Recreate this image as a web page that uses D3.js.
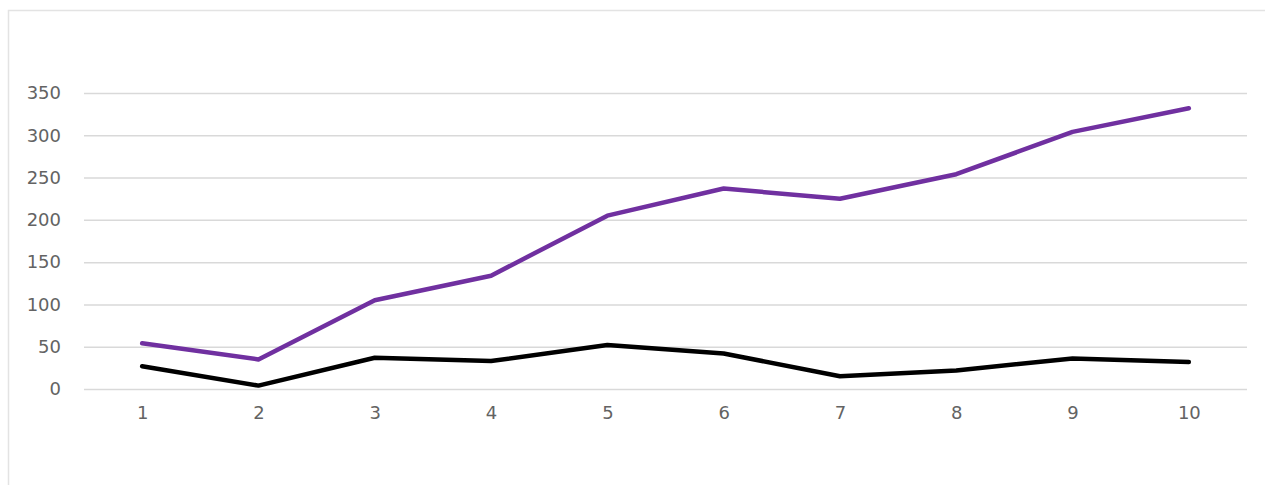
<!DOCTYPE html>
<html>
<head>
<meta charset="utf-8">
<script src="https://cdn.jsdelivr.net/npm/d3@7"></script>
<style>
  html, body { margin: 0; padding: 0; background: #fff; overflow: hidden; }
</style>
</head>
<body>
<div id="chart"></div>
<script>
const categories = ["1", "2", "3", "4", "5", "6", "7", "8", "9", "10"];
const purpleValues = [54, 35, 105, 134, 205, 237, 225, 254, 304, 332];
const blackValues = [27, 4, 37, 33, 52, 42, 15, 22, 36, 32];
const yTicks = [0, 50, 100, 150, 200, 250, 300, 350];

const width = 1265;
const height = 485;
const margin = { top: 93, right: 18, bottom: 96, left: 84 };
const labelFont = "'DejaVu Sans', sans-serif";

const svg = d3.select("#chart")
    .append("svg")
    .attr("width", width)
    .attr("height", height);

// outer frame, runs off the right and bottom edges
svg.append("rect")
    .attr("x", 8.5)
    .attr("y", 10.5)
    .attr("width", width + 50)
    .attr("height", height + 50)
    .attr("fill", "none")
    .attr("stroke", "#e3e3e3")
    .attr("stroke-width", 1.5);

const g = svg.append("g")
    .attr("transform", `translate(${margin.left},${margin.top})`);

const innerW = width - margin.left - margin.right;
const innerH = height - margin.top - margin.bottom;

const xScale = d3.scalePoint()
    .domain(categories)
    .range([0, innerW])
    .padding(0.5);

const yScale = d3.scaleLinear()
    .domain([0, 350])
    .range([innerH, 0]);

// gridlines
g.append("g")
    .call(d3.axisLeft(yScale).tickValues(yTicks).tickSize(-innerW).tickFormat(""))
    .call(sel => sel.select(".domain").remove())
    .selectAll("line")
    .attr("stroke", "#d9d9d9")
    .attr("stroke-width", 1.5);

// y labels
const yAxis = g.append("g")
    .call(d3.axisLeft(yScale).tickValues(yTicks).tickSize(0).tickPadding(23));
yAxis.select(".domain").remove();
yAxis.attr("font-family", labelFont).attr("font-size", 18);
yAxis.selectAll("text")
    .attr("fill", "#636363");

// x labels
const xAxis = g.append("g")
    .attr("transform", `translate(0,${innerH})`)
    .call(d3.axisBottom(xScale).tickSize(0).tickPadding(17));
xAxis.select(".domain").remove();
xAxis.attr("font-family", labelFont).attr("font-size", 18);
xAxis.selectAll("text")
    .attr("fill", "#636363");

const line = d3.line()
    .x((d, i) => xScale(categories[i]))
    .y(d => yScale(d));

g.append("path")
    .datum(purpleValues)
    .attr("d", line)
    .attr("fill", "none")
    .attr("stroke", "#7030a0")
    .attr("stroke-width", 4.5)
    .attr("stroke-linejoin", "round")
    .attr("stroke-linecap", "round");

g.append("path")
    .datum(blackValues)
    .attr("d", line)
    .attr("fill", "none")
    .attr("stroke", "#000000")
    .attr("stroke-width", 4.5)
    .attr("stroke-linejoin", "round")
    .attr("stroke-linecap", "round");
</script>
</body>
</html>
